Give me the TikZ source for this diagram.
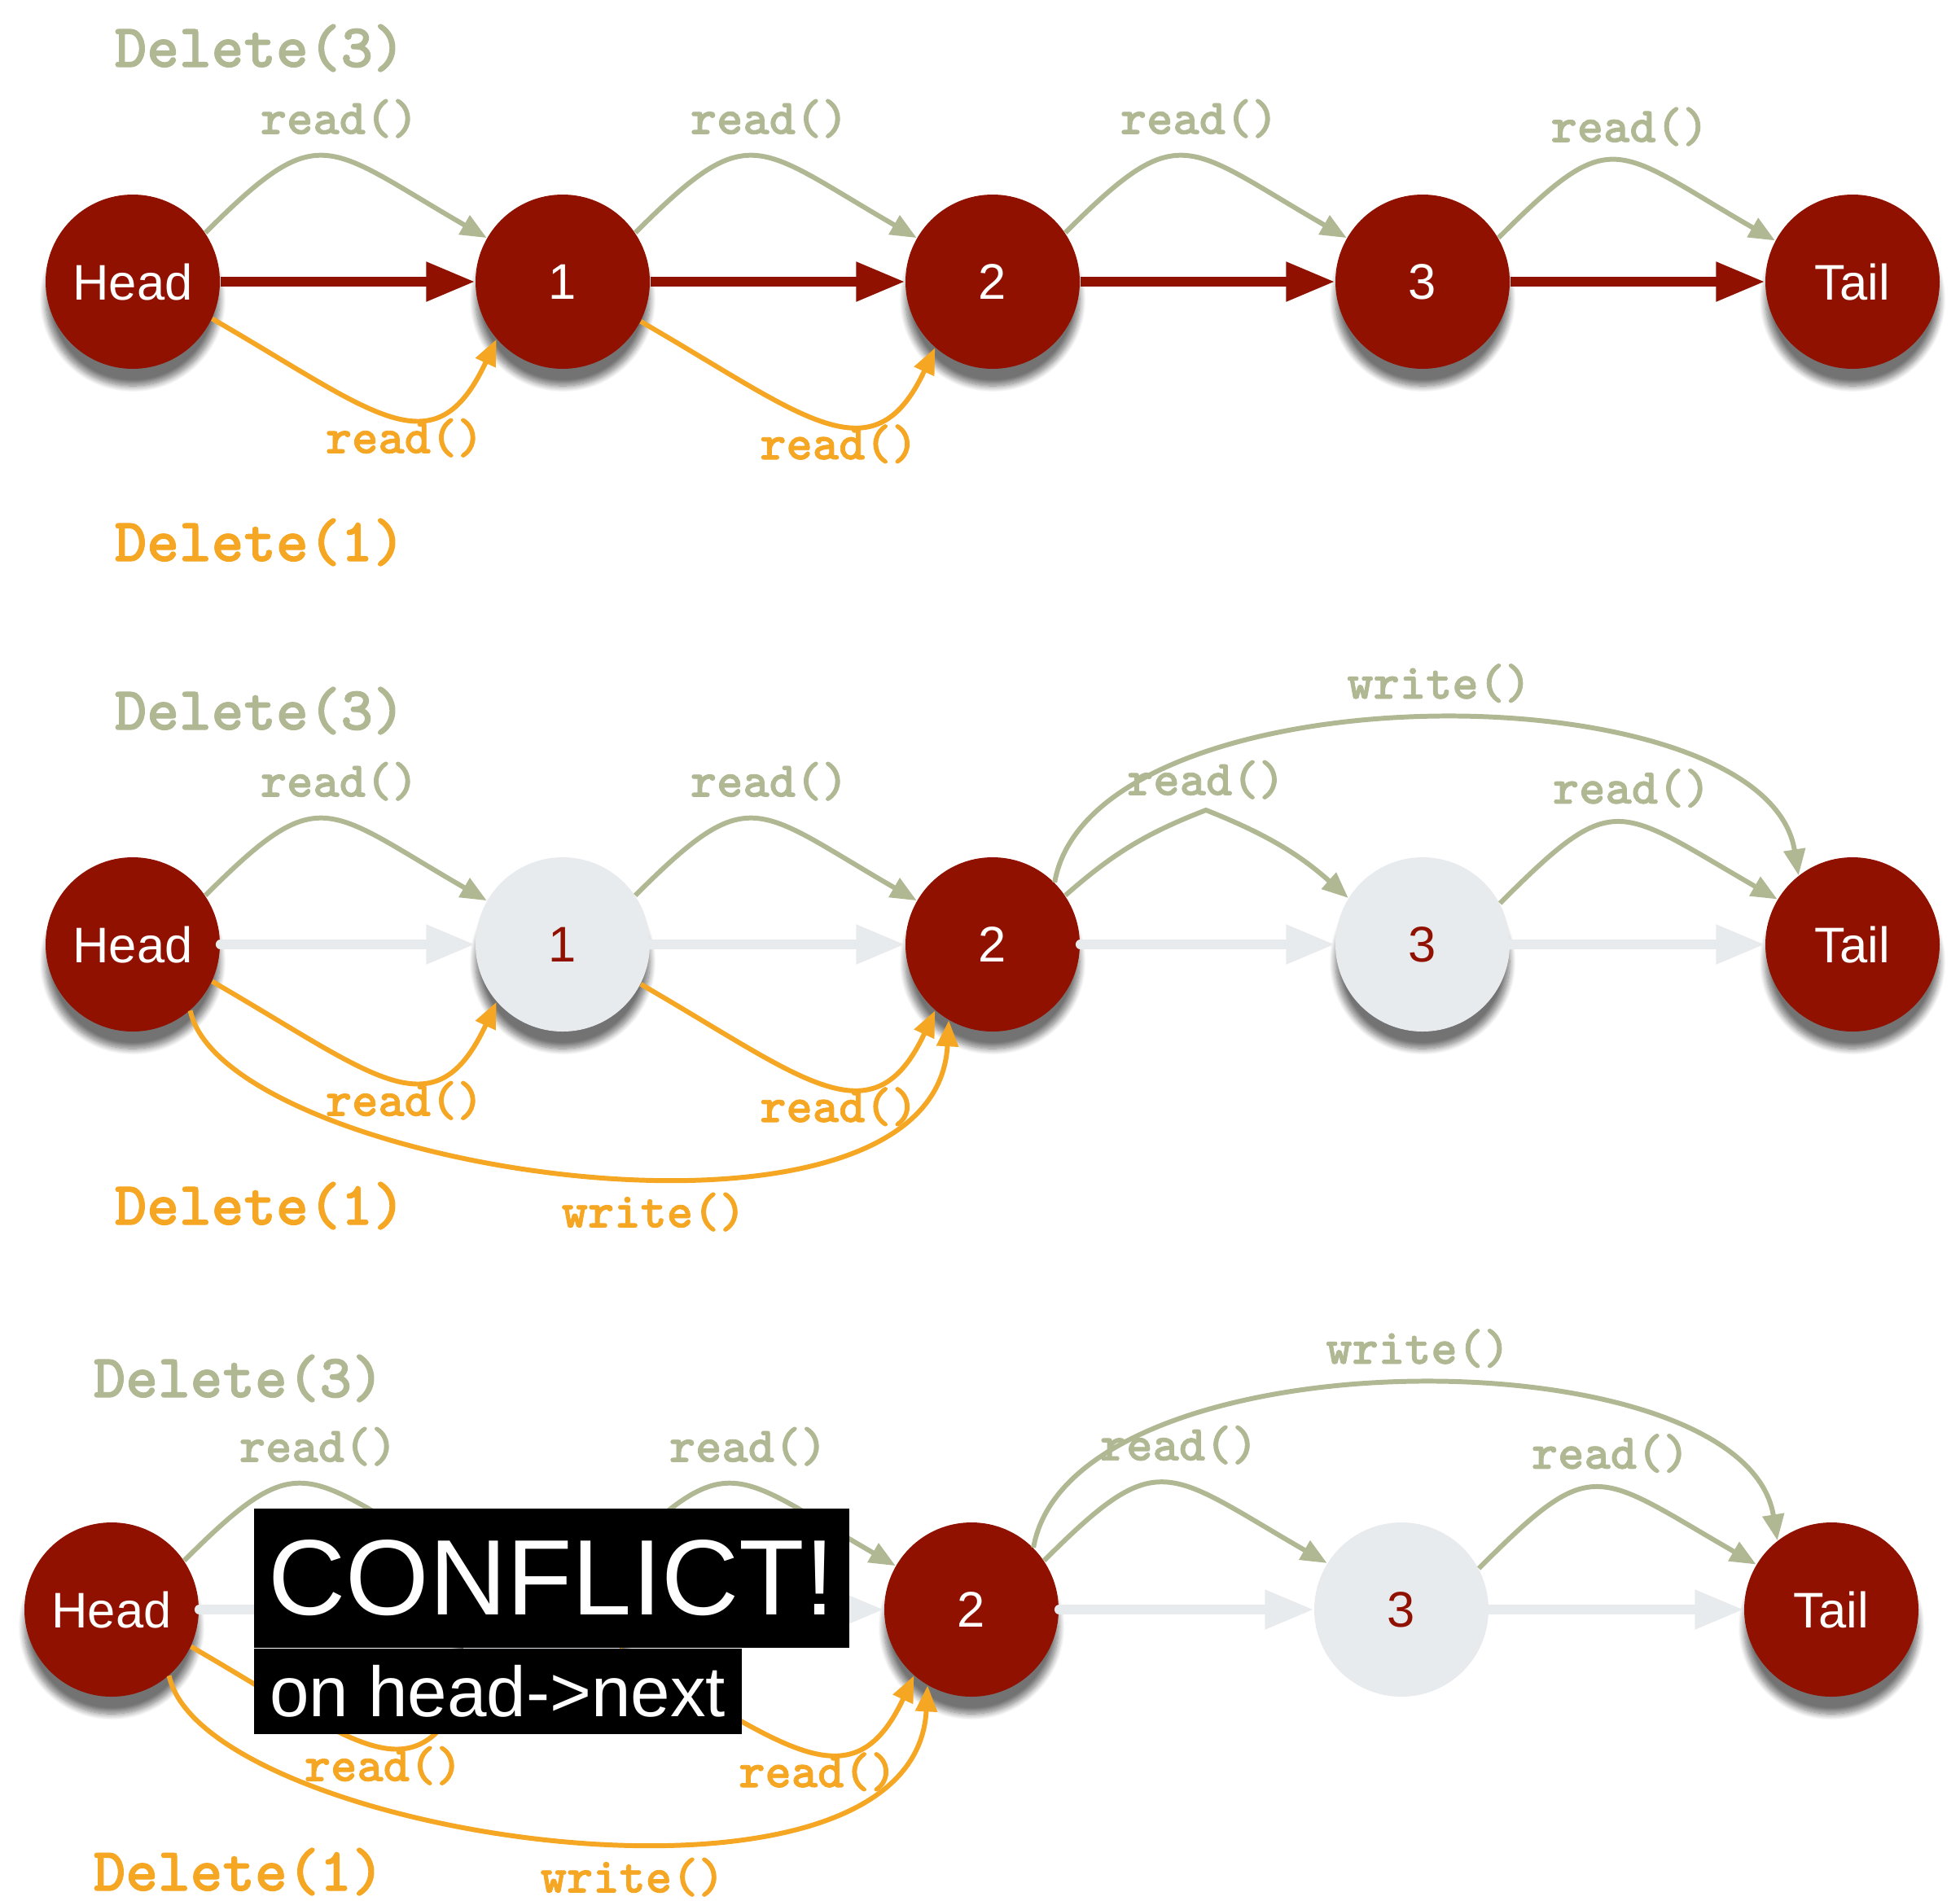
\documentclass[tikz,border=0pt]{standalone}
\usepackage{fontspec}
\setmainfont{Liberation Sans}
\newfontfamily\codefont{lmmonolt10-bold.otf}[FakeBold=1.3]
\usetikzlibrary{arrows.meta,positioning,shadows.blur}
\definecolor{nodered}{RGB}{145,17,0}
\definecolor{sage}{RGB}{176,184,147}
\definecolor{amber}{RGB}{245,166,35}
\definecolor{pale}{RGB}{232,235,238}

\begin{document}
\begin{tikzpicture}[node distance=5.28cm]
  \tikzstyle{bead}=[circle, minimum size=2.14cm, inner sep=0pt, font=\fontsize{17.5}{20}\selectfont]
  \tikzstyle{sunk}=[blur shadow={shadow xshift=0pt, shadow yshift=-6pt, shadow blur steps=12, shadow opacity=55}]
  \tikzstyle{alive}=[bead, sunk, fill=nodered, text=white]
  \tikzstyle{dead}=[bead, sunk, fill=pale, text=nodered]
  \tikzstyle{flat}=[bead, fill=pale, text=nodered]
  \tikzstyle{link}=[draw=nodered, line width=3.3pt, -{Triangle[length=0.6cm,width=0.46cm]}]
  \tikzstyle{oldlink}=[link, draw=pale, line cap=round]
  \tikzstyle{rdg}=[draw=sage, line width=1.7pt, -{Triangle[length=0.32cm,width=0.26cm]}]
  \tikzstyle{rdo}=[rdg, draw=amber]
  \tikzstyle{hop}=[out=45, in=150, out distance=2cm, in distance=2.3cm]
  \tikzstyle{dip}=[out=-30, in=-115, out distance=2.3cm, in distance=1.8cm]
  \tikzstyle{wrg}=[out=80, in=99, out distance=2.7cm, in distance=2.6cm]
  \tikzstyle{wro}=[out=-78, in=-93, out distance=2cm, in distance=3.2cm]
  \tikzstyle{opg}=[text=sage, font=\codefont\fontsize{17.5}{20}\selectfont, inner sep=2pt]
  \tikzstyle{opo}=[opg, text=amber]
  \tikzstyle{thrg}=[text=sage, font=\codefont\fontsize{21.5}{24}\selectfont, anchor=west, inner sep=0pt]
  \tikzstyle{thro}=[thrg, text=amber]
  \tikzstyle{conflict}=[fill=black, text=white, inner xsep=0.17cm, inner ysep=0pt, anchor=north west]

  \useasboundingbox (0,0) rectangle (24.07,-23.34);

  % before
  \node[thrg] (d31) at (1.40,-0.59) {Delete(3)};
  \node[thro] (d11) at (1.40,-6.66) {Delete(1)};
  \node[alive] (h1) at (1.63,-3.46) {Head};
  \node[alive] (a1) [right of=h1] {1};
  \node[alive] (b1) [right of=a1] {2};
  \node[alive] (c1) [right of=b1] {3};
  \node[alive] (t1) [right of=c1] {Tail};
  \draw[link] (h1) -- (a1);
  \draw[link] (a1) -- (b1);
  \draw[link] (b1) -- (c1);
  \draw[link] (c1) -- (t1);
  \draw[rdg] (h1.34) to[hop] node[opg, pos=0.55, above=4.5pt] {read()} (a1.150);
  \draw[rdg] (a1.34) to[hop] node[opg, pos=0.55, above=4.5pt] {read()} (b1.150);
  \draw[rdg] (b1.34) to[hop] node[opg, pos=0.55, above=4.5pt] {read()} (c1.150);
  \draw[rdg] (c1.30) to[hop] node[opg, pos=0.55, above=3pt] {read()} (t1.152);
  \draw[rdo] (h1.-25) to[dip] node[opo, pos=0.55, below=-2pt] {read()} (a1.-139);
  \draw[rdo] (a1.-27) to[dip] node[opo, pos=0.55, below=-2pt] {read()} (b1.-131);

  % both unlinked
  \node[thrg] (d32) at (1.40,-8.73) {Delete(3)};
  \node[thro] (d12) at (1.40,-14.81) {Delete(1)};
  \node[alive] (h2) at (1.63,-11.60) {Head};
  \node[dead] (a2) [right of=h2] {1};
  \node[alive] (b2) [right of=a2] {2};
  \node[dead] (c2) [right of=b2] {3};
  \node[alive] (t2) [right of=c2] {Tail};
  \coordinate (pk2) at (14.81,-9.95);
  \draw[oldlink] (h2) -- (a2);
  \draw[oldlink] (a2) -- (b2);
  \draw[oldlink] (b2) -- (c2);
  \draw[oldlink] (c2) -- (t2);
  \draw[rdg] (h2.34) to[hop] node[opg, pos=0.55, above=4.5pt] {read()} (a2.150);
  \draw[rdg] (a2.34) to[hop] node[opg, pos=0.55, above=4.5pt] {read()} (b2.150);
  \draw[rdg] (b2.34) to[bend left=10] (pk2) node[opg, above=1pt] {read()} to[bend left=10] (c2.148);
  \draw[rdg] (c2.28) to[hop] node[opg, pos=0.55, above=3pt] {read()} (t2.149);
  \draw[rdg] (b2.45) to[wrg] node[opg, pos=0.51, above=3pt] {write()} (t2.128);
  \draw[rdo] (h2.-25) to[dip] node[opo, pos=0.55, below=-2pt] {read()} (a2.-139);
  \draw[rdo] (a2.-27) to[dip] node[opo, pos=0.55, below=-2pt] {read()} (b2.-131);
  \draw[rdo] (h2.-49) to[wro] node[opo, pos=0.57, below=3pt] {write()} (b2.-120);

  % conflict
  \node[thrg] (d33) at (1.14,-16.93) {Delete(3)};
  \node[thro] (d13) at (1.14,-22.99) {Delete(1)};
  \node[alive] (h3) at (1.37,-19.77) {Head};
  \node[dead] (a3) [right of=h3] {1};
  \node[alive] (b3) [right of=a3] {2};
  \node[flat] (c3) [right of=b3] {3};
  \node[alive] (t3) [right of=c3] {Tail};
  \draw[oldlink] (h3) -- (a3);
  \draw[oldlink] (a3) -- (b3);
  \draw[oldlink] (b3) -- (c3);
  \draw[oldlink] (c3) -- (t3);
  \draw[rdg] (h3.34) to[hop] node[opg, pos=0.55, above=4.5pt] {read()} (a3.150);
  \draw[rdg] (a3.34) to[hop] node[opg, pos=0.55, above=4.5pt] {read()} (b3.150);
  \draw[rdg] (b3.34) to[hop] node[opg, pos=0.55, above=4.5pt] {read()} (c3.148);
  \draw[rdg] (c3.28) to[hop] node[opg, pos=0.55, above=3pt] {read()} (t3.149);
  \draw[rdg] (b3.45) to[wrg] node[opg, pos=0.51, above=3pt] {write()} (t3.128);
  \draw[rdo] (h3.-25) to[dip] node[opo, pos=0.55, below=-2pt] {read()} (a3.-139);
  \draw[rdo] (a3.-27) to[dip] node[opo, pos=0.55, below=-2pt] {read()} (b3.-131);
  \draw[rdo] (h3.-49) to[wro] node[opo, pos=0.57, below=3pt] {write()} (b3.-120);
  \node[conflict, minimum width=7.31cm, minimum height=1.71cm, font=\fontsize{37.5}{40}\selectfont] (cf) at (3.11,-18.52) {CONFLICT!};
  \node[conflict, minimum width=5.99cm, minimum height=1.05cm, font=\fontsize{24.8}{28}\selectfont, below right=0pt of cf.south west] (cfn) {on head->next};
\end{tikzpicture}
\end{document}
